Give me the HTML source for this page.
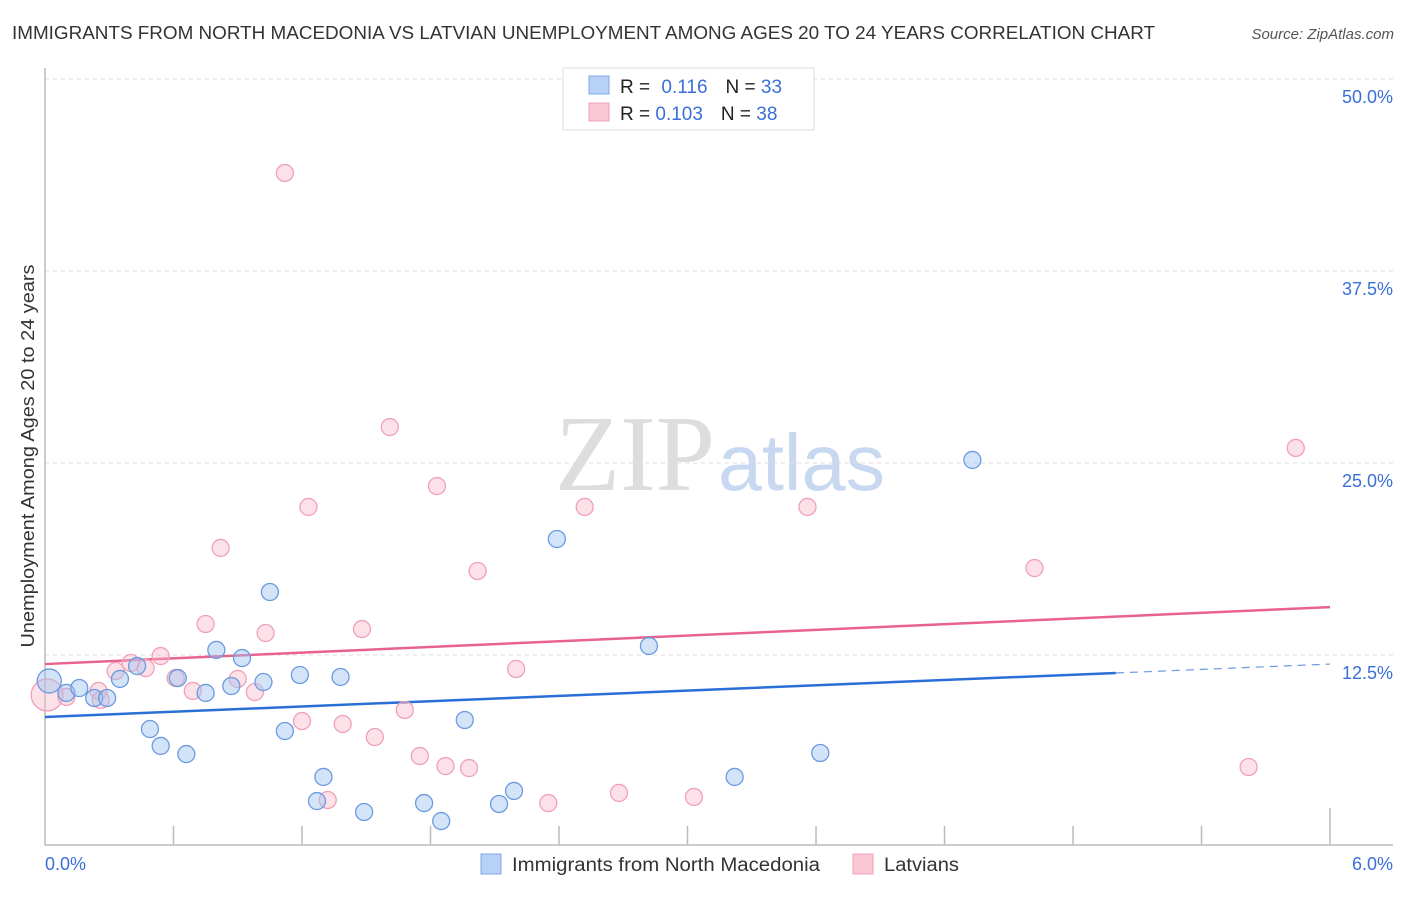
<!DOCTYPE html>
<html><head><meta charset="utf-8"><style>
body{margin:0;background:#fff;font-family:"Liberation Sans",sans-serif;}
</style></head><body>
<svg id="chart" width="1406" height="892" xmlns="http://www.w3.org/2000/svg" style="font-family:'Liberation Sans',sans-serif">
<text x="12" y="39" font-size="18" fill="#333" textLength="1143" lengthAdjust="spacingAndGlyphs">IMMIGRANTS FROM NORTH MACEDONIA VS LATVIAN UNEMPLOYMENT AMONG AGES 20 TO 24 YEARS CORRELATION CHART</text>
<text x="1394" y="39" font-size="15" fill="#555" font-style="italic" text-anchor="end">Source: ZipAtlas.com</text>
<text x="555" y="490" font-size="108" fill="#ddd" textLength="160" lengthAdjust="spacingAndGlyphs" font-family="Liberation Serif,serif">ZIP</text>
<text x="718" y="490" font-size="80" fill="#c8d8f0" textLength="167" lengthAdjust="spacingAndGlyphs">atlas</text>
<g id="grid"></g>
<g id="axes"></g>
<g id="lines"></g>
<g id="points"></g>
<text transform="translate(34,456) rotate(-90)" font-size="18" fill="#333" text-anchor="middle" textLength="383" lengthAdjust="spacingAndGlyphs">Unemployment Among Ages 20 to 24 years</text>
<text x="45" y="870" font-size="18" fill="#3a6fd8">0.0%</text>
<text x="1393" y="870" font-size="18" fill="#3a6fd8" text-anchor="end">6.0%</text>
<g>
<rect x="563" y="68" width="251" height="62" fill="#fff" stroke="#ddd"/>
<rect x="589" y="76" width="20" height="18" fill="#b8d2f5" stroke="#7ea8e6"/>
<rect x="589" y="103" width="20" height="18" fill="#fbc6d4" stroke="#f0a0b8"/>
<text x="620" y="93" font-size="19" fill="#222">R = <tspan fill="#3a6fd8" dx="6">0.116</tspan><tspan dx="18" fill="#222">N = </tspan><tspan fill="#3a6fd8">33</tspan></text>
<text x="620" y="120" font-size="19" fill="#222">R = <tspan fill="#3a6fd8">0.103</tspan><tspan dx="18" fill="#222">N = </tspan><tspan fill="#3a6fd8">38</tspan></text>
</g>
<g>
<rect x="481" y="854" width="20" height="20" fill="#b8d2f5" stroke="#7ea8e6"/>
<text x="512" y="871" font-size="19" fill="#333" textLength="308" lengthAdjust="spacingAndGlyphs">Immigrants from North Macedonia</text>
<rect x="853" y="854" width="20" height="20" fill="#fbc6d4" stroke="#f0a0b8"/>
<text x="884" y="871" font-size="19" fill="#333" textLength="75" lengthAdjust="spacingAndGlyphs">Latvians</text>
</g>
</svg>
<script>
const yTicks=[12.5,25,37.5,50];
const yTickLabels=["12.5%","25.0%","37.5%","50.0%"];
const blueX=[0.02,0.10,0.16,0.23,0.29,0.35,0.43,0.49,0.54,0.62,0.66,0.75,0.80,0.87,0.92,1.02,1.05,1.12,1.19,1.27,1.30,1.38,1.49,1.77,1.85,1.96,2.12,2.19,2.39,2.82,3.22,3.62,4.33];
const blueY=[10.81,10.03,10.35,9.70,9.70,10.94,11.78,7.68,6.58,11.00,6.05,10.03,12.83,10.48,12.30,10.74,16.60,7.55,11.20,2.99,4.56,11.07,2.28,2.86,1.69,8.27,2.80,3.65,20.05,13.09,4.56,6.12,25.20];
const pinkX=[0.01,0.10,0.25,0.33,0.40,0.47,0.54,0.61,0.69,0.75,0.82,0.90,0.98,1.03,1.12,1.20,1.23,1.32,1.39,1.48,1.54,1.61,1.68,1.75,1.83,1.87,1.98,2.02,2.20,2.35,2.52,2.68,3.03,3.56,4.62,5.62,5.84,0.26];
const pinkY=[9.90,9.77,10.16,11.46,11.98,11.65,12.43,11.00,10.16,14.52,19.47,10.94,10.09,13.93,43.88,8.20,22.14,3.06,8.01,14.19,7.16,27.34,8.92,5.92,23.50,5.27,5.14,17.97,11.59,2.86,22.14,3.52,3.26,22.14,18.16,5.21,25.98,9.57];
const blueTrend=[8.46,11.33,11.91]; // at x=0, 5.0, 6.0
const pinkTrend=[11.91,15.62];      // at x=0, 6.0

const sx=v=>45+v*214.17;
const sy=v=>847-v*15.36;
const NS="http://www.w3.org/2000/svg";
function mk(tag,attrs,parent){const e=document.createElementNS(NS,tag);for(const k in attrs)e.setAttribute(k,attrs[k]);parent.appendChild(e);return e;}
const grid=document.getElementById('grid'),axes=document.getElementById('axes'),lines=document.getElementById('lines'),pts=document.getElementById('points');
yTicks.forEach((t,i)=>{
  const l=mk('line',{x1:45,x2:1393,y1:sy(t),y2:sy(t),stroke:'#ddd','stroke-dasharray':'4,4'},grid);
  
  
  const tx=mk('text',{x:1393,y:sy(t)+24,'font-size':18,fill:'#3a6fd8','text-anchor':'end'},grid);
  tx.textContent=yTickLabels[i];
  
  
});
const ax=mk('path',{d:'M45,68 V845 H1393',fill:'none',stroke:'#bbb','stroke-width':1.5},axes);


for(let i=1;i<=10;i++){
  const x=sx(i*0.6);
  const tk=mk('line',{x1:x,x2:x,y1:i==10?808:826,y2:845,stroke:'#bbb','stroke-width':1.5},axes);
  
  
}
const bl=mk('line',{x1:sx(0),y1:sy(blueTrend[0]),x2:sx(5),y2:sy(blueTrend[1]),stroke:'#2a6fd6','stroke-width':2.5},lines);


const bd=mk('line',{x1:sx(5),y1:sy(blueTrend[1]),x2:sx(6),y2:sy(blueTrend[2]),stroke:'#6b9ae0','stroke-width':1.2,'stroke-dasharray':'8,6'},lines);


const pl=mk('line',{x1:sx(0),y1:sy(pinkTrend[0]),x2:sx(6),y2:sy(pinkTrend[1]),stroke:'#e8628e','stroke-width':2.5},lines);


pinkX.forEach((x,i)=>{
  const c=mk('circle',{cx:sx(x),cy:sy(pinkY[i]),r:i==0?16:8.5,fill:'rgba(248,180,200,0.4)',stroke:'#f0a0b8','stroke-width':1.3},pts);
  
  
});
blueX.forEach((x,i)=>{
  const c=mk('circle',{cx:sx(x),cy:sy(blueY[i]),r:i==0?12:8.5,fill:'rgba(160,196,240,0.45)',stroke:'#6b9ae0','stroke-width':1.3},pts);
  
  
});
</script>
</body></html>
